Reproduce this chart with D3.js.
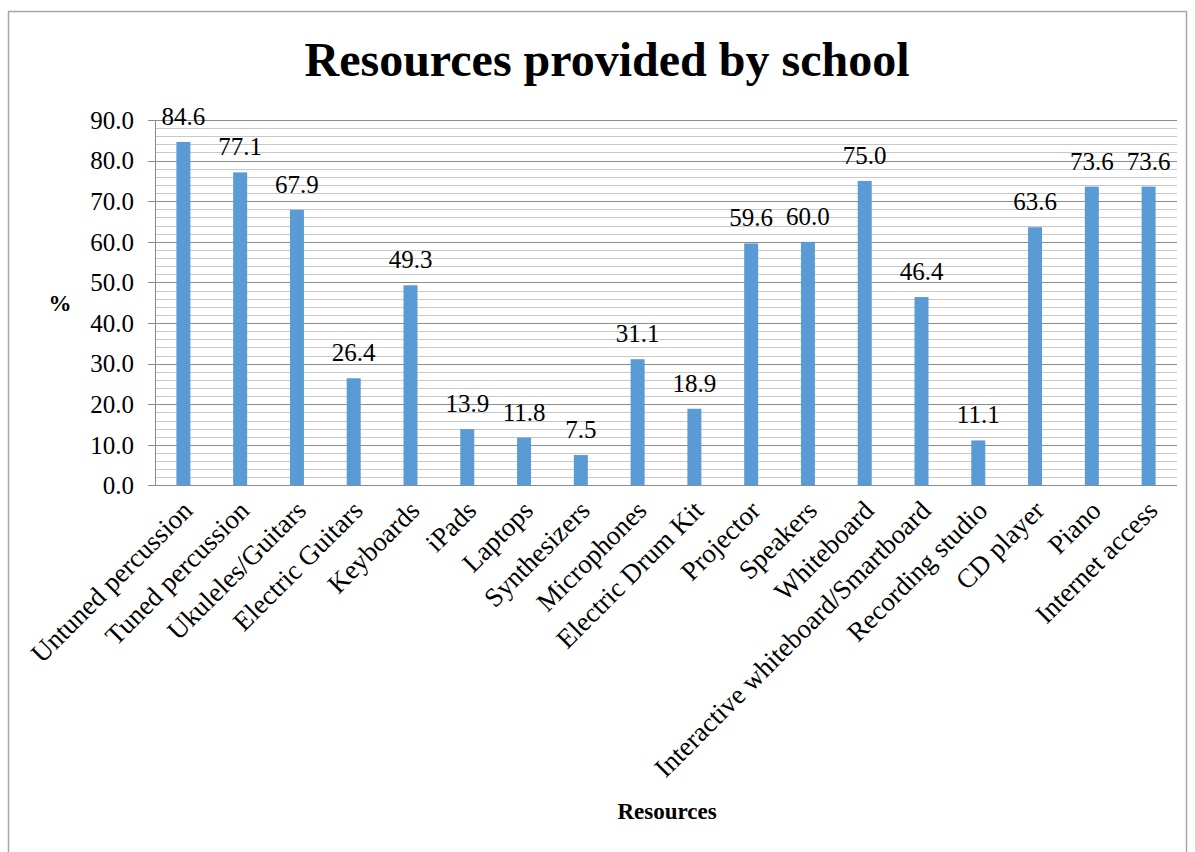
<html>
<head>
  <script src="https://d3js.org/d3.v7.min.js"></script>
  <style>
    body { margin: 0; background: #fff; }
    text { font-family: "Liberation Serif", "Times New Roman", serif; fill: #000; }
  </style>
</head>
<body>
  <script>
    // chart data
    var categories = ["Untuned percussion", "Tuned percussion", "Ukuleles/Guitars", "Electric Guitars",
      "Keyboards", "iPads", "Laptops", "Synthesizers", "Microphones", "Electric Drum Kit", "Projector",
      "Speakers", "Whiteboard", "Interactive whiteboard/Smartboard", "Recording studio", "CD player",
      "Piano", "Internet access"];
    var values = [84.6, 77.1, 67.9, 26.4, 49.3, 13.9, 11.8, 7.5, 31.1, 18.9, 59.6, 60.0, 75.0, 46.4,
      11.1, 63.6, 73.6, 73.6];
    var yTicks = [0, 10, 20, 30, 40, 50, 60, 70, 80, 90];

    var w = 1195, h = 852;
    var svg = d3.select("body").append("svg").attr("width", w).attr("height", h);

    /* outer frame of the chart area */
    svg.append("rect").attr("x", 8.5).attr("y", 11.5).attr("width", 1178).attr("height", 900)
      .attr("fill", "none").attr("stroke", "#a6a6a6").attr("stroke-width", 1.5);

    var pLeft = 155, pRight = 1177, pTop = 120, pBottom = 485.5;
    var x = d3.scaleBand().domain(categories).range([pLeft, pRight]);
    var y = d3.scaleLinear().domain([0, 90]).range([pBottom, pTop]);

    // minor gridlines every 2, major every 10
    var minor = d3.range(2, 90, 2).filter(function(d) { return d % 10 != 0; });
    svg.append("g").selectAll("line").data(minor).enter().append("line")
      .attr("x1", pLeft).attr("x2", pRight)
      .attr("y1", function(d) { return Math.round(y(d)) + 0.5; })
      .attr("y2", function(d) { return Math.round(y(d)) + 0.5; })
      .attr("stroke", "#c8c8c8").attr("stroke-width", 1);
    svg.append("g").selectAll("line").data(yTicks.slice(1)).enter().append("line")
      .attr("x1", pLeft - 7).attr("x2", pRight)
      .attr("y1", function(d) { return Math.round(y(d)) + 0.5; })
      .attr("y2", function(d) { return Math.round(y(d)) + 0.5; })
      .attr("stroke", "#8c8c8c").attr("stroke-width", 1);

    // axes lines
    svg.append("line").attr("x1", pLeft + 0.5).attr("x2", pLeft + 0.5).attr("y1", pTop).attr("y2", pBottom)
      .attr("stroke", "#8c8c8c");
    svg.append("line").attr("x1", pLeft - 7).attr("x2", pRight).attr("y1", pBottom).attr("y2", pBottom)
      .attr("stroke", "#8c8c8c").attr("stroke-width", 1.2);

    // y tick labels
    svg.append("g").selectAll("text").data(yTicks).enter().append("text")
      .attr("x", pLeft - 21).attr("y", function(d) { return y(d); }).attr("dy", "0.35em")
      .attr("text-anchor", "end").style("font-size", "25px")
      .text(function(d) { return d.toFixed(1); });

    // bars
    var bw = 14;
    svg.append("g").selectAll("rect").data(values).enter().append("rect")
      .attr("x", function(d, i) { return x(categories[i]) + x.bandwidth() / 2 - bw / 2; })
      .attr("y", function(d) { return y(d); })
      .attr("width", bw)
      .attr("height", function(d) { return pBottom - y(d); })
      .attr("fill", "#5b9bd5");

    // data labels
    svg.append("g").selectAll("text").data(values).enter().append("text")
      .attr("x", function(d, i) { return x(categories[i]) + x.bandwidth() / 2; })
      .attr("y", function(d) { return y(d) - 17; })
      .attr("text-anchor", "middle").style("font-size", "25px")
      .text(function(d) { return d.toFixed(1); });

    // category labels, rotated
    svg.append("g").selectAll("text").data(categories).enter().append("text")
      .attr("transform", function(d) {
        return "translate(" + (x(d) + x.bandwidth() / 2 + 4) + "," + (pBottom + 20) + ") rotate(-45)";
      })
      .attr("text-anchor", "end").attr("dy", "0.35em").style("font-size", "27px")
      .text(function(d) { return d; });

    // titles
    svg.append("text").attr("x", 607).attr("y", 76).attr("text-anchor", "middle")
      .style("font-size", "48px").style("font-weight", "bold").text("Resources provided by school");
    svg.append("text").attr("x", 60).attr("y", 311).attr("text-anchor", "middle")
      .style("font-size", "23px").style("font-weight", "bold").text("%");
    svg.append("text").attr("x", 667).attr("y", 819).attr("text-anchor", "middle")
      .style("font-size", "23px").style("font-weight", "bold").text("Resources");
  </script>
</body>
</html>
